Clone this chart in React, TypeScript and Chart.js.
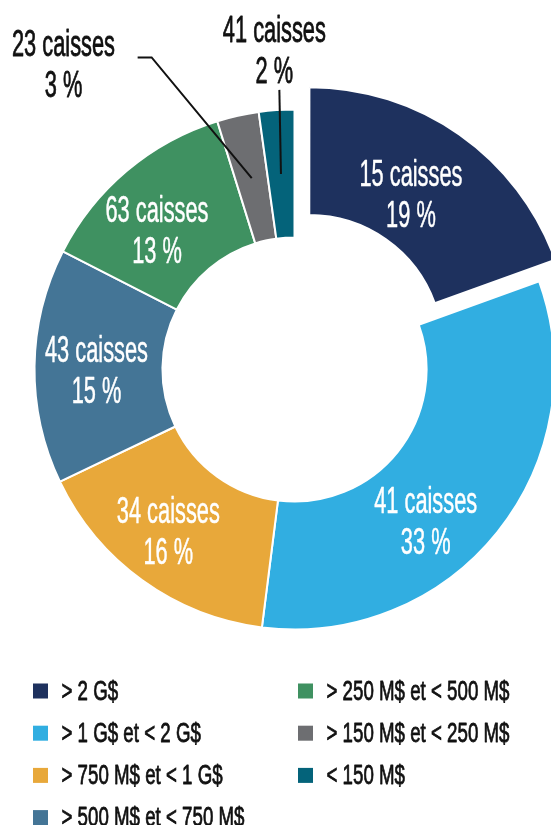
import React, { useEffect, useRef } from 'react';
import { Chart, registerables } from 'chart.js';

Chart.register(...registerables);

// ---- data ----
const categories = [
  '> 2 G$',
  '> 1 G$ et < 2 G$',
  '> 750 M$ et < 1 G$',
  '> 500 M$ et < 750 M$',
  '> 250 M$ et < 500 M$',
  '> 150 M$ et < 250 M$',
  '< 150 M$',
];
const shares = [19.5, 32.5, 15.9, 14.6, 12.7, 2.6, 2.2];
const caisses = [15, 41, 34, 43, 63, 23, 41];
const percentLabels = [19, 33, 16, 15, 13, 3, 2];
const sliceColors = ['#1e315e', '#31aee1', '#e8a83a', '#447596', '#3f9161', '#6d6e71', '#04637a'];
const sliceOffsets = [102, 0, 0, 0, 0, 0, 0];

const FONT = "'Liberation Sans Narrow', 'Liberation Sans', Arial, sans-serif";
const toRad = (deg: number) => (deg * Math.PI) / 180 - Math.PI / 2; // clockwise from top

const drawCondensed = (
  ctx: CanvasRenderingContext2D,
  text: string,
  x: number,
  y: number,
  sx: number,
  weight: number
) => {
  ctx.save();
  ctx.translate(x, y);
  ctx.scale(sx, 1);
  ctx.fillText(text, 0, 0);
  if (weight > 0) {
    ctx.lineWidth = weight;
    ctx.strokeStyle = ctx.fillStyle as string;
    ctx.lineJoin = 'round';
    ctx.strokeText(text, 0, 0);
  }
  ctx.restore();
};

// translation Chart.js applies to an arc with a given offset
const arcShift = (offset: number, circumference: number) =>
  (offset / 4) * (1 + (1 - Math.sin(Math.min(Math.PI, circumference || 0))));

const sliceLabelPlugin = {
  id: 'sliceLabels',
  afterDatasetsDraw(chart: any, _args: any, opts: any) {
    const ctx: CanvasRenderingContext2D = chart.ctx;
    const meta = chart.getDatasetMeta(0);
    const ds = chart.data.datasets[0];
    ctx.save();
    ctx.font = `${opts.size}px ${FONT}`;
    const sx = opts.refWidth / ctx.measureText(opts.refText).width;
    const cap = opts.size * 0.716;
    ctx.textAlign = 'center';
    ctx.textBaseline = 'alphabetic';
    meta.data.forEach((arc: any, i: number) => {
      const p = arc.getProps(['x', 'y', 'startAngle', 'endAngle', 'innerRadius', 'outerRadius', 'circumference'], true);
      const off = arcShift((ds.offset as number[])[i] || 0, p.circumference);
      const mid = (p.startAngle + p.endAngle) / 2;
      const ox = p.x + Math.cos(mid) * off;
      const oy = p.y + Math.sin(mid) * off;
      const rMid = (p.innerRadius + p.outerRadius) / 2;
      const callout = opts.callouts[i];
      let lx: number;
      let ly: number;
      let weight: number;
      if (callout) {
        const pts: number[][] = [[ox + Math.cos(mid) * rMid, oy + Math.sin(mid) * rMid]];
        callout.path.forEach((s: any) => {
          const last = pts[pts.length - 1];
          if (s.dx !== undefined) pts.push([last[0] + s.dx, last[1]]);
          else {
            const a = toRad(s.angle);
            pts.push([p.x + Math.cos(a) * s.r * p.outerRadius, p.y + Math.sin(a) * s.r * p.outerRadius]);
          }
        });
        ctx.beginPath();
        ctx.moveTo(pts[0][0], pts[0][1]);
        for (let k = 1; k < pts.length; k++) ctx.lineTo(pts[k][0], pts[k][1]);
        ctx.strokeStyle = opts.outsideColor;
        ctx.lineWidth = 2;
        ctx.stroke();
        const a = toRad(callout.label.angle);
        lx = p.x + Math.cos(a) * callout.label.r * p.outerRadius;
        ly = p.y + Math.sin(a) * callout.label.r * p.outerRadius;
        ctx.fillStyle = opts.outsideColor;
        weight = opts.outsideWeight;
      } else {
        const a = mid + ((opts.angleShift[i] || 0) * Math.PI) / 180;
        const r = rMid * (opts.radiusFactor[i] || 1);
        lx = ox + Math.cos(a) * r;
        ly = oy + Math.sin(a) * r;
        ctx.fillStyle = opts.insideColor;
        weight = opts.insideWeight;
      }
      const b1 = ly + (cap - opts.lineGap) / 2;
      drawCondensed(ctx, `${caisses[i]} caisses`, lx, b1, sx, weight);
      drawCondensed(ctx, `${percentLabels[i]} %`, lx, b1 + opts.lineGap, sx, weight);
    });
    ctx.restore();
  },
};

const columnLegendPlugin = {
  id: 'columnLegend',
  afterDraw(chart: any, _args: any, opts: any) {
    const ctx: CanvasRenderingContext2D = chart.ctx;
    const labels: string[] = chart.data.labels;
    const colors: string[] = chart.data.datasets[0].backgroundColor;
    ctx.save();
    ctx.font = `${opts.size}px ${FONT}`;
    const sx = opts.refWidth / ctx.measureText(opts.refText).width;
    ctx.textAlign = 'left';
    ctx.textBaseline = 'alphabetic';
    labels.forEach((lab, i) => {
      const col = Math.floor(i / opts.rows);
      const row = i % opts.rows;
      const mx = opts.colX[col];
      const my = opts.top + row * opts.rowGap;
      ctx.fillStyle = colors[i];
      ctx.fillRect(mx, my, opts.box, opts.box);
      ctx.fillStyle = opts.color;
      drawCondensed(ctx, lab, mx + opts.textGap, my + opts.box + 1, sx, opts.weight);
    });
    ctx.restore();
  },
};

export default function App() {
  const ref = useRef<HTMLCanvasElement | null>(null);
  useEffect(() => {
    if (!ref.current) return;
    const chart = new Chart(ref.current, {
      type: 'doughnut',
      data: {
        labels: categories,
        datasets: [
          {
            data: shares,
            backgroundColor: sliceColors,
            borderColor: '#ffffff',
            borderWidth: 2,
            offset: sliceOffsets,
            hoverOffset: 0,
            clip: false,
          } as any,
        ],
      },
      options: {
        animation: false,
        responsive: false,
        devicePixelRatio: 1,
        radius: 260,
        cutout: '50.8%',
        events: [],
        layout: { padding: { left: 38, right: 0, top: 99, bottom: 185 } },
        plugins: {
          legend: { display: false },
          tooltip: { enabled: false },
          title: { display: false },
          sliceLabels: {
            size: 36,
            refText: '15 caisses',
            refWidth: 103,
            lineGap: 41,
            insideColor: '#ffffff',
            outsideColor: '#111111',
            insideWeight: 0.5,
            outsideWeight: 0.8,
            angleShift: [-1.9, 10.3, 2.2, -0.8, -4.4],
            radiusFactor: [0.94, 1.02, 1.045, 1.01, 1.0],
            callouts: {
              5: { label: { angle: 322.9, r: 1.473 }, path: [{ angle: 335.4, r: 1.32 }, { dx: -14 }] },
              6: { label: { angle: 356.4, r: 1.234 }, path: [{ angle: 356.9, r: 1.077 }] },
            },
          },
          columnLegend: {
            size: 27,
            refText: '> 250 M$ et < 500 M$',
            refWidth: 183,
            rows: 4,
            colX: [33, 298],
            top: 683.5,
            rowGap: 42.2,
            box: 15,
            textGap: 28.5,
            color: '#111111',
            weight: 0.8,
          },
        } as any,
      },
      plugins: [sliceLabelPlugin, columnLegendPlugin],
    });
    return () => chart.destroy();
  }, []);
  return (
    <div style={{ position: 'absolute', left: 0, top: 0, width: 551, height: 825, overflow: 'hidden', background: '#ffffff' }}>
      <canvas ref={ref} width={551} height={825} style={{ display: 'block', width: 551, height: 825 }} />
    </div>
  );
}
